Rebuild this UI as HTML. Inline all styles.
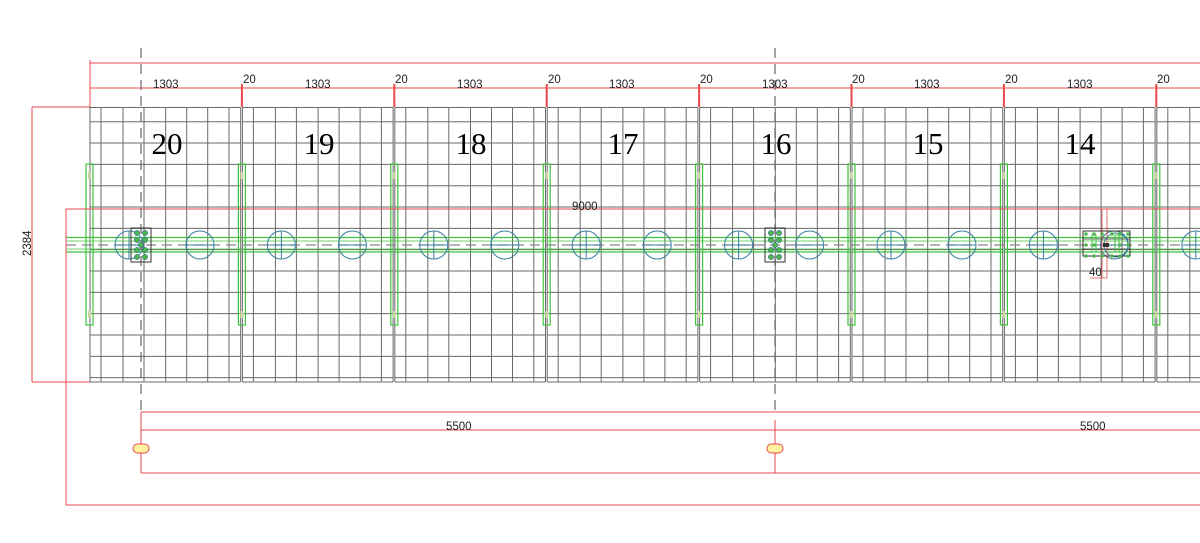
<!DOCTYPE html>
<html><head><meta charset="utf-8"><style>
html,body{margin:0;padding:0;background:#fff;width:1200px;height:543px;overflow:hidden}
svg{display:block}
text{font-family:"Liberation Sans",sans-serif}
</style></head><body>
<svg id="s" width="1200" height="543" viewBox="0 0 1200 543" xmlns="http://www.w3.org/2000/svg">
<g id="g"></g>
<g font-size="11.5" fill="#222">
<text x="153" y="88">1303</text><text x="305" y="88">1303</text><text x="457" y="88">1303</text><text x="609" y="88">1303</text><text x="762" y="88">1303</text><text x="914" y="88">1303</text><text x="1067" y="88">1303</text>
<text x="243" y="83">20</text><text x="395" y="83">20</text><text x="548" y="83">20</text><text x="700" y="83">20</text><text x="852" y="83">20</text><text x="1005" y="83">20</text><text x="1157" y="83">20</text>
<text x="572" y="210">9000</text>
<text x="446" y="430">5500</text><text x="1080" y="430">5500</text>
<text x="1089" y="276">40</text>
<text transform="translate(31,256) rotate(-90)">2384</text>
</g>
<g font-size="31" fill="#000" text-anchor="middle">
<text x="167" y="154" style="font-family:'Liberation Serif',serif">20</text>
<text x="319" y="154" style="font-family:'Liberation Serif',serif">19</text>
<text x="471" y="154" style="font-family:'Liberation Serif',serif">18</text>
<text x="623" y="154" style="font-family:'Liberation Serif',serif">17</text>
<text x="776" y="154" style="font-family:'Liberation Serif',serif">16</text>
<text x="928" y="154" style="font-family:'Liberation Serif',serif">15</text>
<text x="1080" y="154" style="font-family:'Liberation Serif',serif">14</text>
</g>
</svg>
<script>
var g=document.getElementById('g'),h='';
function L(x1,y1,x2,y2,c,w,d){h+='<line x1="'+x1+'" y1="'+y1+'" x2="'+x2+'" y2="'+y2+'" stroke="'+c+'" stroke-width="'+(w||1)+'"'+(d?' stroke-dasharray="'+d+'"':'')+'/>';}
var gr='#6a6a6a',rd='#e8484c',gn='#3fc43f',bl='#3a7fa0';
var offs=[0,11,33,54,75.7,96.7,117.7,139,150.7];
var hy=[107.5];for(var y=121.7;y<380;y+=21.33)hy.push(y);hy.push(382);
for(var i=0;i<8;i++){var P=90+152.4*i;
 offs.forEach(function(o){var x=P+o;if(x<1200)L(x,107.5,x,382,gr,1);});
 hy.forEach(function(y){L(P,y,Math.min(P+150.7,1200),y,gr,1);});
}
L(66,237.5,1200,237.5,gn,1.2);L(66,241,1200,241,gn,0.8);L(66,249,1200,249,gn,0.8);L(66,252,1200,252,gn,1.2);
L(66,245,1200,245,'#888',1.2,'10,6');
for(var i=0;i<8;i++){var P=90+152.4*i;
 [39,110].forEach(function(o,k){var cx=P+o;if(cx>1215)return;
  h+='<circle cx="'+cx+'" cy="245" r="14" fill="none" stroke="'+bl+'" stroke-width="1"/>';
  L(cx-14,245,cx+14,245,bl,1);if(k==0)L(cx,231,cx,259,bl,1);});
}
for(var i=0;i<8;i++){var P=90+152.4*i-4;
 h+='<rect x="'+P+'" y="164" width="7" height="161" fill="none" stroke="'+gn+'" stroke-width="1.2"/>';
 h+='<rect x="'+(P+2)+'" y="172" width="3" height="7" fill="#c8d7a0"/><rect x="'+(P+2)+'" y="311" width="3" height="7" fill="#c8d7a0"/>';
}
L(90,63,1200,63,rd,1);L(90,88,1200,88,rd,1);L(90,60,90,107,rd,1);
for(var i=1;i<8;i++){var x=90+152.4*i-0.5;L(x,84,x,107,rd,2);}
L(32,107,90,107,rd,1);L(32,382,90,382,rd,1);L(32,107,32,382,rd,1);
L(66,209,1200,209,rd,1);L(66,209,66,505,rd,1);L(66,505,1200,505,rd,1);
L(141,412,1200,412,rd,1);L(141,430,1200,430,rd,1);L(141,473,1200,473,rd,1);L(141,412,141,473,rd,1);L(775,420,775,473,rd,1);
[141,775].forEach(function(x){h+='<rect x="'+(x-8)+'" y="444" width="16" height="9" rx="4.5" fill="#fff3a0" stroke="'+rd+'" stroke-width="1"/>';});
L(1102,209,1102,278,rd,0.8);L(1107,209,1107,278,rd,0.8);L(1090,278,1107,278,rd,0.8);
L(141,48,141,410,'#666',1.2,'10,6');L(775,48,775,410,'#666',1.2,'10,6');
[141,775].forEach(function(x){h+='<rect x="'+(x-10)+'" y="228" width="20" height="34" fill="none" stroke="#333" stroke-width="1"/>';
 [[-4,233],[4,233],[-4,240],[4,240],[0,245],[-4,250],[4,250],[-4,257],[4,257]].forEach(function(p){h+='<circle cx="'+(x+p[0])+'" cy="'+p[1]+'" r="2.6" fill="#4cb84c" stroke="#2a6080" stroke-width="0.6"/>';});});
h+='<rect x="1083" y="231" width="47" height="25" fill="none" stroke="#333" stroke-width="1"/>';
L(1083,239,1130,239,'#333',0.7);L(1083,249,1130,249,'#333',0.7);
h+='<circle cx="1116" cy="245" r="12" fill="none" stroke="'+bl+'" stroke-width="1"/>';
h+='<rect x="1092" y="235" width="4" height="17" fill="none" stroke="'+gn+'"/><rect x="1115" y="235" width="4" height="17" fill="none" stroke="'+gn+'"/>';
[[1086,234],[1094,234],[1102,234],[1112,234],[1120,234],[1128,234],[1086,245],[1094,245],[1120,245],[1128,245],[1086,256],[1094,256],[1102,256],[1112,256],[1120,256],[1128,256]].forEach(function(p){h+='<circle cx="'+p[0]+'" cy="'+p[1]+'" r="1.8" fill="#4cb84c"/>';});
h+='<rect x="1103" y="243" width="6" height="4" fill="#333"/>';
g.innerHTML=h;
</script>
</body></html>
